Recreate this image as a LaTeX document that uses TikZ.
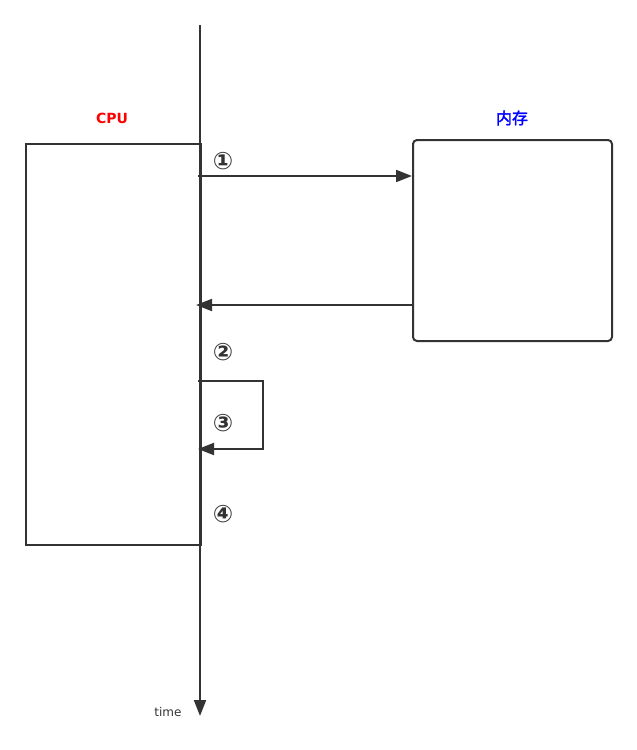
\documentclass[tikz,border=0pt]{standalone}
\usepackage{fontspec}
\setmainfont{DejaVu Sans}
\newfontfamily\cjk[AutoFakeBold=2]{Noto Sans CJK SC}
\usetikzlibrary{arrows.meta}
\definecolor{ink}{HTML}{333333}
\begin{document}
\begin{tikzpicture}[x=0.75pt,y=-0.75pt,
    line/.style={draw=ink, line width=1.5pt, -{Triangle[length=12pt,width=9pt]}},
    box/.style={draw=ink, line width=1.5pt, anchor=north west, inner sep=0pt},
    num/.style={font=\bfseries\fontsize{18}{18}\selectfont, text=ink},
    ]
    \useasboundingbox (0,0) rectangle (636,750);
    % Place nodes
    \node [box, minimum width=131.25pt, minimum height=300.75pt] (cpu) at (25,143) {};
    \node [box, rounded corners=3pt, minimum width=149.25pt, minimum height=150.75pt] (mem) at (412,139) {};
    \node [font=\bfseries\fontsize{10.5}{10.5}\selectfont, text=red] (cpulabel) at (112,118) {CPU};
    \node [font=\cjk\bfseries\fontsize{12}{12}\selectfont, text=blue] (memlabel) at (512,118) {内存};

    \node [num] (n1) at (223,161) {①};
    \node [num] (n2) at (223,352) {②};
    \node [num] (n3) at (223,423) {③};
    \node [num] (n4) at (223,514) {④};
    \node [font=\fontsize{9}{9}\selectfont, text=ink] (tlabel) at (168,712) {time};

    % Time axis
    \coordinate (top) at (200,25);
    \coordinate (bot) at (200,716);
    \draw [line] (top) -- (bot);

    % Draw edges
    \coordinate (r1) at (198,176);
    \coordinate (r2) at (196,305);
    \coordinate (l1) at (198,381);
    \coordinate (l2) at (198,449);
    \draw [line] (r1) -- (r1 -| mem.west);
    \draw [line] (r2 -| mem.west) -- (r2);
    \draw [line] (l1) -- ++(65,0) |- (l2);
\end{tikzpicture}
\end{document}
